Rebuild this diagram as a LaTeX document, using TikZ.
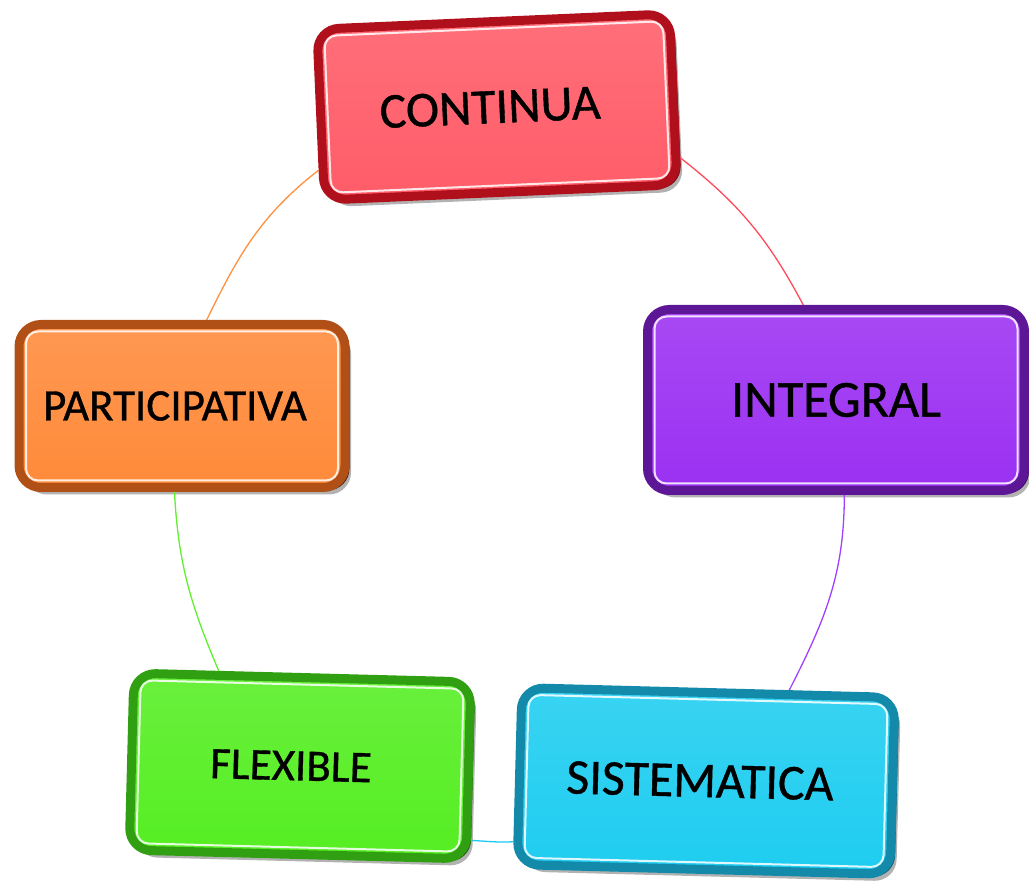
\documentclass[tikz,border=0pt]{standalone}
\usepackage{fontspec}
\setmainfont{Carlito}
\newfontfamily\lblfont[FakeBold=0.8]{Carlito}
\usetikzlibrary{shadows}
\definecolor{cmain}{HTML}{FF5C68}
\definecolor{cdark}{HTML}{B0101C}
\definecolor{cside}{HTML}{6E0A12}
\definecolor{imain}{HTML}{9B30F2}
\definecolor{idark}{HTML}{5C1696}
\definecolor{iside}{HTML}{3A0A60}
\definecolor{smain}{HTML}{1ECDF0}
\definecolor{sdark}{HTML}{138AAA}
\definecolor{sside}{HTML}{0C5A70}
\definecolor{fmain}{HTML}{55EE22}
\definecolor{fdark}{HTML}{30A012}
\definecolor{fside}{HTML}{1C5A0A}
\definecolor{pmain}{HTML}{FF8A3A}
\definecolor{pdark}{HTML}{B05016}
\definecolor{pside}{HTML}{4A2208}
\definecolor{arcred}{HTML}{FF4A5A}
\definecolor{arcpurple}{HTML}{A040FF}
\definecolor{arccyan}{HTML}{20C8F0}
\definecolor{arcgreen}{HTML}{60F030}
\definecolor{arcorange}{HTML}{FF9040}
\begin{document}
\begin{tikzpicture}[x=1pt,y=1pt,
  box/.style n args={3}{rectangle, rounded corners=22pt, line width=9pt, draw=#2,
     top color=#1!88!white, bottom color=#1, text=black, inner sep=0pt,
     drop shadow={shadow xshift=6pt, shadow yshift=-7pt, opacity=0.3, fill=black},
     general shadow={fill=#3, shadow xshift=4.5pt, shadow yshift=-3pt}},
  hl/.style={rectangle, rounded corners=12pt, draw=white, line width=2pt, draw opacity=0.85, inner sep=0pt},
  arcline/.style={line width=1.3pt}]
\useasboundingbox (0,0) rectangle (1029,884);

\node[box={cmain}{cdark}{cside}, rotate=2.5, minimum width=353pt, minimum height=171pt,
      font=\lblfont\fontsize{50}{50}\selectfont] (cont) at (497,777) {\hspace*{-14pt}CONTINUA};
\node[hl, rotate=2.5, minimum width=339pt, minimum height=157pt] (contH) at (cont.center) {};

\node[box={imain}{idark}{iside}, minimum width=377pt, minimum height=181pt,
      font=\lblfont\fontsize{52}{52}\selectfont] (integ) at (836,484) {INTEGRAL};
\node[hl, minimum width=363pt, minimum height=167pt] (integH) at (integ.center) {};

\node[box={smain}{sdark}{sside}, rotate=-1.5, minimum width=373pt, minimum height=177pt,
      font=\lblfont\fontsize{50}{50}\selectfont] (sist) at (706,103) {\hspace*{-12pt}SISTEMATICA};
\node[hl, rotate=-1.5, minimum width=359pt, minimum height=163pt] (sistH) at (sist.center) {};

\node[box={fmain}{fdark}{fside}, rotate=-1.5, minimum width=337pt, minimum height=177pt,
      font=\lblfont\fontsize{45}{45}\selectfont] (flex) at (300,118) {\hspace*{-18pt}FLEXIBLE};
\node[hl, rotate=-1.5, minimum width=323pt, minimum height=163pt] (flexH) at (flex.center) {};

\node[box={pmain}{pdark}{pside}, minimum width=326pt, minimum height=163pt,
      font=\lblfont\fontsize{45}{45}\selectfont] (part) at (182,478) {\hspace*{-14pt}PARTICIPATIVA};
\node[hl, minimum width=312pt, minimum height=149pt] (partH) at (part.center) {};

\draw[arcline, arcred]    (cont.-18) to[out=-38, in=118] (integ.109);
\draw[arcline, arcpurple] (integ.-85) to[out=-90, in=63] (sist.49);
\draw[arcline, arccyan]   (sist.199) to[out=183, in=-3] (flex.-22);
\draw[arcline, arcgreen]  (flex.132) to[out=113, in=-87] (part.-95);
\draw[arcline, arcorange] (part.74) to[out=64, in=-142] (cont.197);
\end{tikzpicture}
\end{document}
